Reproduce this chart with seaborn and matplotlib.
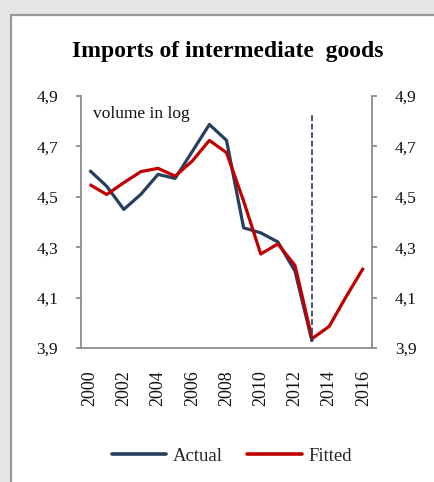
import numpy as np
import pandas as pd
import seaborn as sns
import matplotlib
matplotlib.use("Agg")
import matplotlib.pyplot as plt
from matplotlib.patches import Rectangle
from matplotlib.lines import Line2D

# Imports of intermediate goods, volume in log
years = list(range(2000, 2017))
actual = [4.605, 4.542, 4.450, 4.510, 4.589, 4.573, 4.680, 4.787, 4.724,
          4.377, 4.357, 4.321, 4.205, 3.926]
fitted = [4.549, 4.509, 4.556, 4.600, 4.613, 4.582, 4.642, 4.724, 4.675,
          4.483, 4.273, 4.313, 4.228, 3.937, 3.986, 4.105, 4.218]
y_ticks = [3.9, 4.1, 4.3, 4.5, 4.7, 4.9]
y_tick_labels = ["3,9", "4,1", "4,3", "4,5", "4,7", "4,9"]
x_tick_years = list(range(2000, 2017, 2))
forecast_start = 2013
series_names = ["Actual", "Fitted"]
series_colors = {"Actual": "#253f5f", "Fitted": "#c00000"}

df = pd.concat([
    pd.DataFrame({"year": years[:len(actual)], "value": actual, "series": "Actual"}),
    pd.DataFrame({"year": years, "value": fitted, "series": "Fitted"}),
], ignore_index=True)

sns.set_style("white")
plt.rcParams["font.family"] = ["Liberation Serif", "DejaVu Serif"]

W, H = 435, 482
fig = plt.figure(figsize=(W / 100, H / 100), dpi=100, facecolor="#e6e6e6")

# white chart panel with grey frame
fig.patches.append(Rectangle((11 / W, -0.2), 1.2, 1.2 - 15 / H, transform=fig.transFigure,
                             facecolor="white", edgecolor="#999999", linewidth=1.6,
                             zorder=-10))

ax = fig.add_axes([81 / W, 1 - 348 / H, (372 - 81) / W, (348 - 96) / H])
ax.set_facecolor("none")

sns.lineplot(data=df, x="year", y="value", hue="series", hue_order=series_names,
             palette=series_colors, linewidth=2.3, legend=False, ax=ax,
             estimator=None, sort=False)
for ln in ax.get_lines():
    ln.set_solid_capstyle("butt")

ax.vlines(forecast_start, 3.925, 4.825, colors="#253f5f", linewidth=1.2,
          linestyles=(0, (3.5, 1.6)))

ax.set_xlim(years[0] - 0.5, years[-1] + 0.5)
ax.set_ylim(3.9, 4.9)
ax.set_yticks(y_ticks)
ax.set_yticklabels(y_tick_labels)
ax.set_xticks(x_tick_years)
ax.set_xticklabels([str(y) for y in x_tick_years], rotation=90)
ax.set_xlabel("")
ax.set_ylabel("")

axis_grey = "#8c8c8c"
for side in ["left", "right", "bottom"]:
    ax.spines[side].set_visible(True)
    ax.spines[side].set_color(axis_grey)
    ax.spines[side].set_linewidth(1.3)
ax.spines["top"].set_visible(False)

ax.tick_params(axis="y", which="both", left=True, right=True, labelleft=True,
               labelright=True, direction="out", length=3.5, width=1.3,
               color=axis_grey, pad=13, labelsize=12.5, labelcolor="#111111")
ax.tick_params(axis="x", length=0, pad=16, labelsize=13, labelcolor="#111111")

ax.text(0.041, 0.929, "volume in log", transform=ax.transAxes, fontsize=12.5,
        va="center", ha="left", color="#111111")

fig.text(227.5 / W, 1 - 51 / H, "Imports of intermediate  goods", ha="center",
         va="center", fontsize=17, fontweight="bold", color="#000000")

handles = [Line2D([0], [0], color=series_colors[n], linewidth=2.6) for n in series_names]
fig.legend(handles, series_names, loc="center", bbox_to_anchor=(232 / W, 1 - 456 / H),
           ncol=2, frameon=False, fontsize=13.5, handlelength=2.9,
           handletextpad=0.35, columnspacing=1.3)

fig.savefig("out.png", dpi=100, facecolor=fig.get_facecolor())
